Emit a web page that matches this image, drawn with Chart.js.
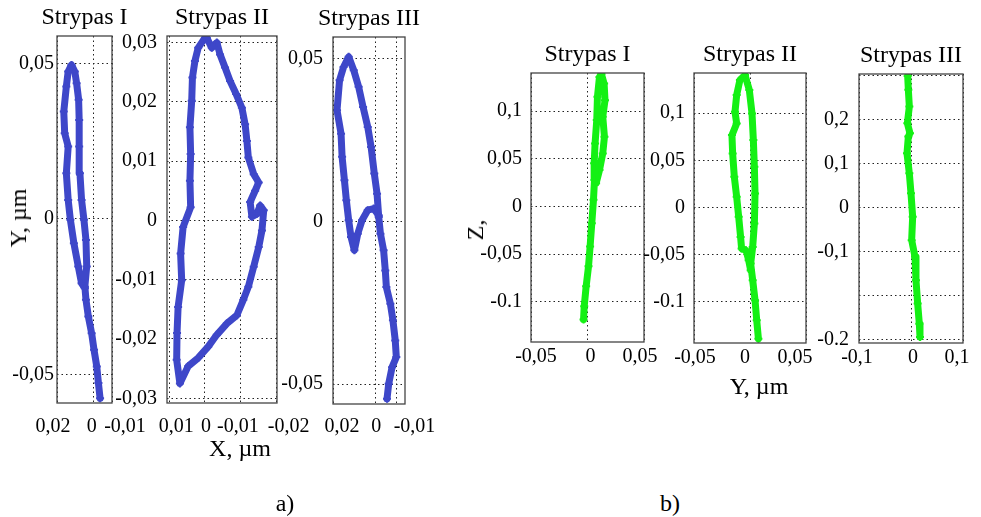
<!DOCTYPE html>
<html>
<head>
<meta charset="utf-8">
<script src="https://cdn.jsdelivr.net/npm/chart.js@4.4.0/dist/chart.umd.min.js"></script>
<style>
body { margin: 0; background: #fff; width: 981px; height: 517px; position: relative; overflow: hidden;
       font-family: "Liberation Serif", "Times New Roman", serif; }
.panel { position: absolute; }
.lbl { position: absolute; font-size: 24px; line-height: 24px; color: #000; white-space: nowrap;
       transform: translate(-50%, -50%); }
.rot { transform: translate(-50%, -50%) rotate(-90deg); }
</style>
</head>
<body>

<div class="panel" id="pA1"><canvas id="chartA1"></canvas></div>
<div class="panel" id="pA2"><canvas id="chartA2"></canvas></div>
<div class="panel" id="pA3"><canvas id="chartA3"></canvas></div>
<div class="panel" id="pB1"><canvas id="chartB1"></canvas></div>
<div class="panel" id="pB2"><canvas id="chartB2"></canvas></div>
<div class="panel" id="pB3"><canvas id="chartB3"></canvas></div>

<div class="lbl rot" style="left:18px;top:218px;">Y, µm</div>
<div class="lbl" style="left:240px;top:448px;">X, µm</div>
<div class="lbl" style="left:285px;top:503px;">a)</div>
<div class="lbl rot" style="left:475px;top:230px;">Z,</div>
<div class="lbl" style="left:759px;top:386px;">Y, µm</div>
<div class="lbl" style="left:670px;top:503px;">b)</div>

<script>
// ---- data ----
const titles = ["Strypas I", "Strypas II", "Strypas III"];

// a) X-Y trajectories
const a1X = [-0.0035,-0.0026,-0.0017,-0.0002,0.0011,0.0029,0.0042,0.0048,0.0038,0.0042,0.0053,0.0066,0.0075,0.0079,0.0079,0.0082,0.0093,0.0103,0.0121,0.0139,0.0149,0.0163,0.0158,0.0139,0.0149,0.0139,0.0127,0.0108,0.0084,0.0066,0.0048];
const a1Y = [-0.0577,-0.0528,-0.0475,-0.0421,-0.0368,-0.0314,-0.0260,-0.0218,-0.0153,-0.0068,-0.0003,0.0061,0.0147,0.0233,0.0318,0.0383,0.0436,0.0474,0.0495,0.0474,0.0426,0.0345,0.0275,0.0233,0.0147,0.0061,-0.0003,-0.0078,-0.0153,-0.0207,-0.0223];

const a2X = [0,0.0019,0.0028,0.0035,0.0037,0.0042,0.0040,0.0042,0.0040,0.0061,0.0068,0.0065,0.0075,0.0078,0.0079,0.0070,0.0047,0.0019,-0.0009,-0.0033,-0.0061,-0.0089,-0.0107,-0.0121,-0.0136,-0.0150,-0.0159,-0.0164,-0.0154,-0.0145,-0.0131,-0.0126,-0.0140,-0.0150,-0.0136,-0.0121,-0.0117,-0.0112,-0.0103,-0.0087,-0.0070,-0.0056,-0.0042,-0.0033,-0.0019,-0.0005];
const a2Y = [0.0308,0.0291,0.0269,0.0241,0.0202,0.0157,0.0112,0.0067,0.0022,-0.0011,-0.0056,-0.0101,-0.0146,-0.0190,-0.0235,-0.0275,-0.0246,-0.0232,-0.0213,-0.0193,-0.0174,-0.0160,-0.0134,-0.0112,-0.0078,-0.0045,-0.0017,0.0017,0.0025,0.0011,0.0006,0.0031,0.0050,0.0064,0.0078,0.0106,0.0134,0.0162,0.0190,0.0213,0.0235,0.0258,0.0280,0.0300,0.0291,0.0308];

const a3X = [-0.0055,-0.0063,-0.0079,-0.0099,-0.0094,-0.0083,-0.0071,-0.0052,-0.0047,-0.0039,-0.0024,-0.0016,-0.0008,0.0005,0.0020,0.0036,0.0058,0.0079,0.0102,0.0126,0.0150,0.0169,0.0181,0.0162,0.0157,0.0146,0.0137,0.0126,0.0115,0.0099,0.0083,0.0063,0.0036,0.0008,-0.0016];
const a3Y = [-0.0545,-0.0499,-0.0448,-0.0417,-0.0366,-0.0304,-0.0253,-0.0202,-0.0151,-0.0089,-0.0038,0.0013,0.0085,0.0147,0.0228,0.0290,0.0351,0.0413,0.0464,0.0505,0.0474,0.0433,0.0341,0.0269,0.0198,0.0126,0.0065,0.0003,-0.0048,-0.0089,-0.0038,0.0003,0.0034,0.0039,0.0018];

// b) Y-Z trajectories
const b1X = [-0.0035,-0.0029,-0.0012,0.0009,0.0023,0.0038,0.0053,0.0062,0.0059,0.0067,0.0082,0.0088,0.0106,0.0123,0.0147,0.0155,0.0135,0.0150,0.0135,0.0106,0.0076];
const b1Y = [-0.1185,-0.1045,-0.0836,-0.0627,-0.0418,-0.0174,0.0070,0.0279,0.0453,0.0662,0.0906,0.1150,0.1359,0.1390,0.1289,0.1115,0.0941,0.0732,0.0557,0.0383,0.0244];

const b2X = [0.0075,0.0060,0.0045,0.0024,0.0006,0.0024,0.0039,0.0045,0.0039,0.0030,0.0018,-0.0006,-0.0045,-0.0090,-0.0119,-0.0134,-0.0119,-0.0161,-0.0155,-0.0140,-0.0119,-0.0101,-0.0084,-0.0075,-0.0036,-0.0012,0.0006];
const b2Y = [-0.1389,-0.1194,-0.0982,-0.0770,-0.0594,-0.0417,-0.0170,0.0148,0.0431,0.0714,0.0996,0.1244,0.1403,0.1350,0.1191,0.1014,0.0890,0.0767,0.0572,0.0325,0.0113,-0.0099,-0.0311,-0.0435,-0.0452,-0.0558,-0.0664];

const b3X = [-0.0064,-0.0051,-0.0032,-0.0070,-0.0020,-0.0051,-0.0077,-0.0032,0,0.0032,0.0013,0.0077,0.0096,0.0128,0.0160,0.0173];
const b3Y = [0.3000,0.2684,0.2304,0.1924,0.1696,0.1620,0.1240,0.0783,0.0327,-0.0205,-0.0738,-0.1118,-0.1650,-0.2183,-0.2639,-0.2943];

// ticks and their labels
const a1XTicks = [0.02, 0, -0.01];
const a1XLabels = ["0,02", "0", "-0,01"];
const a1YTicks = [0.05, 0, -0.05];
const a1YLabels = ["0,05", "0", "-0,05"];

const a2XTicks = [0.01, 0, -0.01, -0.02];
const a2XLabels = ["0,01", "0", "-0,01", "-0,02"];
const a2YTicks = [0.03, 0.02, 0.01, 0, -0.01, -0.02, -0.03];
const a2YLabels = ["0,03", "0,02", "0,01", "0", "-0,01", "-0,02", "-0,03"];

const a3XTicks = [0.02, 0, -0.01];
const a3XLabels = ["0,02", "0", "-0,01"];
const a3YTicks = [0.05, 0, -0.05];
const a3YLabels = ["0,05", "0", "-0,05"];

const bXTicks = [-0.05, 0, 0.05];
const bXLabels = ["-0,05", "0", "0,05"];
const bYTicks = [0.1, 0.05, 0, -0.05, -0.1];
const bYLabels = ["0,1", "0,05", "0", "-0,05", "-0.1"];

const b3XTicks = [-0.1, 0, 0.1];
const b3XLabels = ["-0,1", "0", "0,1"];
const b3YTicks = [0.3, 0.2, 0.1, 0, -0.1, -0.2, -0.3];
const b3YLabels = ["", "0,2", "0,1", "0", "-0,1", "", "-0.2"];

const BLUE = "#3e47c9";
const GREEN = "#14f014";

Chart.defaults.font.family = '"Liberation Serif", "Times New Roman", serif';
Chart.defaults.color = "#000";

const TITLE_H = 33;   // room above each box for its title
const SIDE = 60;      // room for y tick labels / overhanging x labels

// frame round the plotting area, title centred over it
const framePlugin = {
    id: "frame",
    afterDraw(chart, args, opts) {
        const a = chart.chartArea;
        const ctx = chart.ctx;
        ctx.save();
        ctx.strokeStyle = "#444";
        ctx.lineWidth = 1.3;
        ctx.strokeRect(a.left, a.top, a.right - a.left, a.bottom - a.top);
        ctx.font = '24px "Liberation Serif"';
        ctx.fillStyle = "#000";
        ctx.textAlign = "center";
        ctx.textBaseline = "middle";
        ctx.fillText(opts.title, (a.left + a.right) / 2, a.top - 18);
        ctx.restore();
    }
};

// x tick labels, nudged sideways like in the original figure
const xLabelPlugin = {
    id: "xLabels",
    afterDraw(chart, args, opts) {
        const scale = chart.scales.x;
        const ctx = chart.ctx;
        ctx.save();
        ctx.font = '20px "Liberation Serif"';
        ctx.fillStyle = "#000";
        ctx.textAlign = "center";
        ctx.textBaseline = "middle";
        opts.values.forEach((v, i) => {
            ctx.fillText(
                opts.labels[i],
                scale.getPixelForValue(v) + opts.nudge[i],
                chart.chartArea.bottom + opts.gap
            );
        });
        ctx.restore();
    }
};

function createPanel(p) {

    const box = p.box; // [left, top, right, bottom] of the plotting area
    const w = box[2] - box[0];
    const h = box[3] - box[1];

    const wrap = document.getElementById(p.wrap);
    wrap.style.left = (box[0] - SIDE) + "px";
    wrap.style.top = (box[1] - TITLE_H) + "px";

    const canvas = document.getElementById(p.canvas);
    canvas.width = SIDE + w + SIDE;
    canvas.height = TITLE_H + h + p.xHeight;

    return new Chart(canvas, {
        type: "scatter",
        data: {
            datasets: [{
                data: p.xs.map((x, i) => ({ x: x, y: p.ys[i] })),
                showLine: true,
                borderColor: p.color,
                backgroundColor: p.color,
                borderWidth: 7,
                borderJoinStyle: "round",
                borderCapStyle: "round",
                pointStyle: "cross",
                pointRadius: 4,
                pointBorderWidth: 2,
                pointBorderColor: p.color
            }]
        },
        options: {
            responsive: false,
            animation: false,
            events: [],
            layout: { padding: { top: TITLE_H, left: 0, right: SIDE, bottom: 0 } },
            plugins: {
                legend: { display: false },
                tooltip: { enabled: false },
                title: { display: false },
                frame: { title: p.title },
                xLabels: {
                    values: p.xTicks,
                    labels: p.xLabels,
                    nudge: p.xNudge,
                    gap: p.xGap
                }
            },
            scales: {
                x: {
                    type: "linear",
                    min: p.xRange[0],
                    max: p.xRange[1],
                    reverse: p.xReverse,
                    afterBuildTicks: s => { s.ticks = p.xTicks.map(v => ({ value: v })); },
                    afterFit: s => { s.height = p.xHeight; },
                    ticks: { display: false },
                    grid: { color: "#222", lineWidth: 1, drawTicks: false },
                    border: { display: false, dash: [1.5, 3] }
                },
                y: {
                    type: "linear",
                    min: p.yRange[0],
                    max: p.yRange[1],
                    afterBuildTicks: s => { s.ticks = p.yTicks.map(v => ({ value: v })); },
                    afterFit: s => { s.width = SIDE; },
                    ticks: {
                        autoSkip: false,
                        padding: p.yPad,
                        font: { size: 20 },
                        callback: v => p.yLabels[p.yTicks.indexOf(v)]
                    },
                    grid: { color: "#222", lineWidth: 1, drawTicks: false },
                    border: { display: false, dash: [1.5, 3] }
                }
            }
        },
        plugins: [framePlugin, xLabelPlugin]
    });
}

createPanel({
    wrap: "pA1", canvas: "chartA1", title: titles[0], color: BLUE,
    box: [57, 36, 112, 403], xHeight: 40, xGap: 24, yPad: 3,
    xs: a1X, ys: a1Y, xRange: [-0.01, 0.02], xReverse: true, yRange: [-0.0592, 0.0588],
    xTicks: a1XTicks, xLabels: a1XLabels, xNudge: [-4, -2, 13],
    yTicks: a1YTicks, yLabels: a1YLabels
});

createPanel({
    wrap: "pA2", canvas: "chartA2", title: titles[1], color: BLUE,
    box: [167, 36, 277, 403], xHeight: 40, xGap: 24, yPad: 10,
    xs: a2X, ys: a2Y, xRange: [-0.0201, 0.0106], xReverse: true, yRange: [-0.0308, 0.0311],
    xTicks: a2XTicks, xLabels: a2XLabels, xNudge: [7, 1, -3, 12],
    yTicks: a2YTicks, yLabels: a2YLabels
});

createPanel({
    wrap: "pA3", canvas: "chartA3", title: titles[2], color: BLUE,
    box: [333, 37, 405, 404], xHeight: 40, xGap: 23, yPad: 10,
    xs: a3X, ys: a3Y, xRange: [-0.014, 0.02], xReverse: true, yRange: [-0.0561, 0.0566],
    xTicks: a3XTicks, xLabels: a3XLabels, xNudge: [9, 1, 18],
    yTicks: a3YTicks, yLabels: a3YLabels
});

createPanel({
    wrap: "pB1", canvas: "chartB1", title: titles[0], color: GREEN,
    box: [531, 73, 644, 342], xHeight: 30, xGap: 15, yPad: 9,
    xs: b1X, ys: b1Y, xRange: [-0.05, 0.05], xReverse: false, yRange: [-0.142, 0.140],
    xTicks: bXTicks, xLabels: bXLabels, xNudge: [5, 3, -4],
    yTicks: bYTicks, yLabels: bYLabels
});

createPanel({
    wrap: "pB2", canvas: "chartB2", title: titles[1], color: GREEN,
    box: [694, 73, 806, 343], xHeight: 30, xGap: 15, yPad: 9,
    xs: b2X, ys: b2Y, xRange: [-0.05, 0.05], xReverse: false, yRange: [-0.1435, 0.1425],
    xTicks: bXTicks, xLabels: bXLabels, xNudge: [1, -5, -11],
    yTicks: bYTicks, yLabels: bYLabels
});

createPanel({
    wrap: "pB3", canvas: "chartB3", title: titles[2], color: GREEN,
    box: [859, 74, 963, 343], xHeight: 30, xGap: 15, yPad: 10,
    xs: b3X, ys: b3Y, xRange: [-0.1, 0.1], xReverse: false, yRange: [-0.308, 0.3045],
    xTicks: b3XTicks, xLabels: b3XLabels, xNudge: [-2, 2, -6],
    yTicks: b3YTicks, yLabels: b3YLabels
});
</script>
</body>
</html>
